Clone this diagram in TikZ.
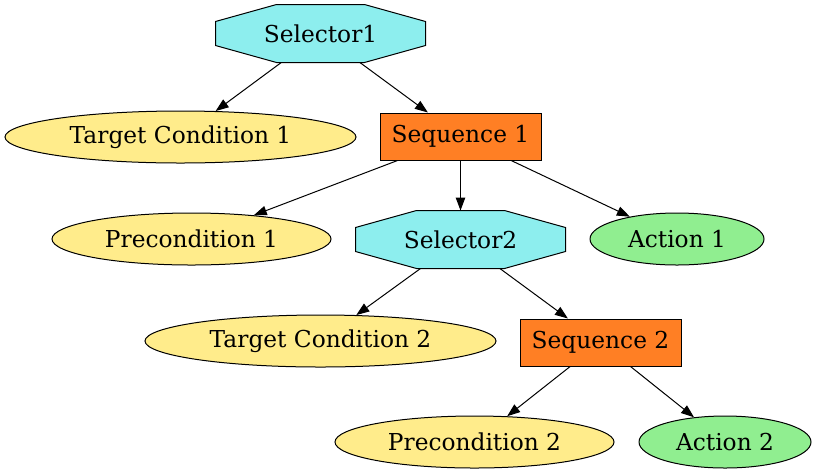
\documentclass[tikz,border=0pt]{standalone}
\usepackage{fontspec}
\setmainfont{DejaVu Serif}
\usetikzlibrary{shapes.geometric,arrows.meta,backgrounds,calc}
\definecolor{selcol}{RGB}{141,238,238}
\definecolor{seqcol}{RGB}{255,127,36}
\definecolor{condcol}{RGB}{255,236,139}
\definecolor{actcol}{RGB}{144,238,144}
\tikzset{
  base/.style={font=\fontsize{23.3}{25}\selectfont, inner sep=0pt, line width=1pt},
  octa/.style={base, rectangle, minimum width=209pt, minimum height=57pt},
  seqbox/.style={base, rectangle, draw, fill=seqcol, minimum width=161pt, minimum height=47pt},
  cond/.style={base, ellipse, draw, fill=condcol, minimum height=52pt},
  act/.style={base, ellipse, draw, fill=actcol, minimum height=52pt},
  edge/.style={line width=1pt, -{Triangle[length=13pt,width=9.5pt]}},
  octdraw/.style={draw, line width=1pt, fill=selcol}
}
\newcommand\drawocta[1]{%
  \draw[octdraw] ($(#1.north)+(-44pt,0)$) -- ($(#1.north)+(44pt,0)$)
    -- ($(#1.east)+(0,12pt)$) -- ($(#1.east)+(0,-12pt)$)
    -- ($(#1.south)+(44pt,0)$) -- ($(#1.south)+(-44pt,0)$)
    -- ($(#1.west)+(0,-12pt)$) -- ($(#1.west)+(0,12pt)$) -- cycle;}
\begin{document}
\begin{tikzpicture}[x=1pt,y=1pt]
\useasboundingbox (0,0) rectangle (818,-475);
\node[octa] (s1) at (320.5,-33.5) {Selector1};
\node[cond, minimum width=351pt] (tc1) at (180.5,-137) {Target Condition 1};
\node[seqbox] (q1) at (460.5,-136.5) {Sequence 1};
\node[cond, minimum width=279pt] (p1) at (191.5,-239) {Precondition 1};
\node[octa] (s2) at (460.5,-239.5) {Selector2};
\node[act, minimum width=174pt] (a1) at (677,-239) {Action 1};
\node[cond, minimum width=351pt] (tc2) at (320.5,-341) {Target Condition 2};
\node[seqbox] (q2) at (600.5,-342.5) {Sequence 2};
\node[cond, minimum width=279pt] (p2) at (474.5,-442) {Precondition 2};
\node[act, minimum width=172pt] (a2) at (725,-442) {Action 2};
\begin{scope}[on background layer]
\drawocta{s1}
\drawocta{s2}
\end{scope}
\draw[edge] (s1) -- (tc1);
\draw[edge] (s1) -- (q1);
\draw[edge] (q1) -- (p1);
\draw[edge] (q1) -- (s2);
\draw[edge] (q1) -- (a1);
\draw[edge] (s2) -- (tc2);
\draw[edge] (s2) -- (q2);
\draw[edge] (q2) -- (p2);
\draw[edge] (q2) -- (a2);
\end{tikzpicture}
\end{document}
